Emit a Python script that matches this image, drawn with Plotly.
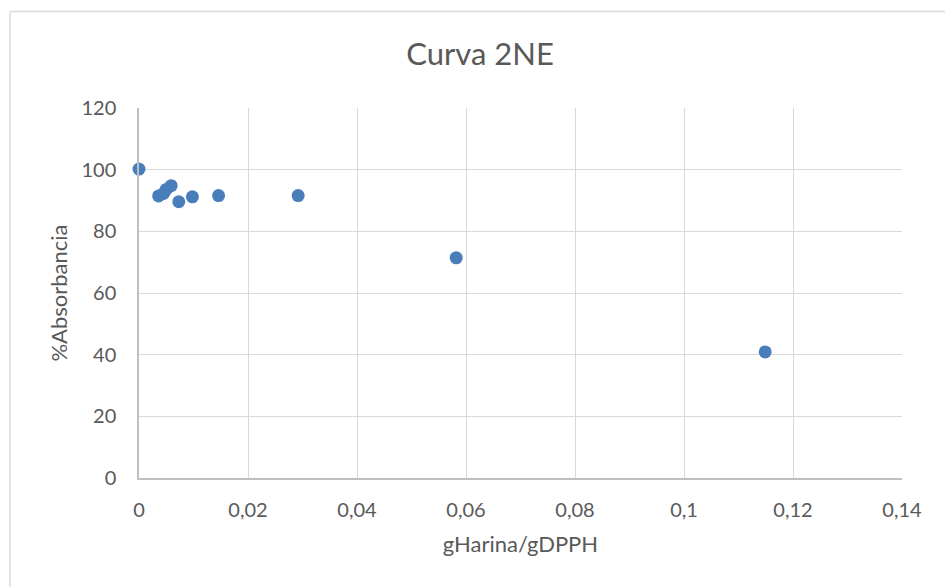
import plotly.graph_objects as go

x_vals = [0.0, 0.0036, 0.0045, 0.0050, 0.0059, 0.0073, 0.0098, 0.0146, 0.0292, 0.0582, 0.1149]
y_vals = [100.2, 91.5, 92.3, 93.6, 94.8, 89.6, 91.2, 91.6, 91.6, 71.4, 40.9]

x_ticks = [0, 0.02, 0.04, 0.06, 0.08, 0.1, 0.12, 0.14]
x_tick_labels = ["0", "0,02", "0,04", "0,06", "0,08", "0,1", "0,12", "0,14"]
y_ticks = [0, 20, 40, 60, 80, 100, 120]

FONT = "Lato, 'Open Sans', sans-serif"
TXT = "#595959"

fig = go.Figure()
fig.add_trace(go.Scatter(
    x=x_vals, y=y_vals, mode="markers",
    marker=dict(size=13, color="#4A7EBB"),
    showlegend=False, cliponaxis=False,
))

fig.update_layout(
    width=945, height=587,
    margin=dict(l=139, r=43, t=108, b=109),
    paper_bgcolor="white", plot_bgcolor="white",
    title=dict(text="Curva 2NE", x=480 / 945, xanchor="center", y=0.908, yanchor="middle",
               font=dict(family=FONT, size=31, color=TXT)),
    font=dict(family=FONT, size=20, color=TXT),
    xaxis=dict(
        range=[0, 0.14], tickvals=x_ticks, ticktext=x_tick_labels,
        showgrid=True, gridcolor="#D9D9D9", gridwidth=1,
        zeroline=False, showline=True, linecolor="#BFBFBF", linewidth=1.5,
        ticks="", ticklen=0, ticklabelstandoff=13,
        tickfont=dict(family=FONT, size=20, color=TXT),
        title=dict(text="gHarina/gDPPH", font=dict(family=FONT, size=22, color=TXT), standoff=17),
    ),
    yaxis=dict(
        range=[0, 120], tickvals=y_ticks,
        showgrid=True, gridcolor="#D9D9D9", gridwidth=1,
        zeroline=False, showline=True, linecolor="#BFBFBF", linewidth=1.5,
        ticks="", ticklen=0, ticklabelstandoff=17,
        tickfont=dict(family=FONT, size=20, color=TXT),
        title=dict(text="%Absorbancia", font=dict(family=FONT, size=22, color=TXT), standoff=8),
    ),
    shapes=[
        dict(type="line", xref="paper", yref="paper",
             x0=(10 - 139) / 763, x1=(950 - 139) / 763,
             y0=(478 - 11.5) / 370, y1=(478 - 11.5) / 370,
             line=dict(color="#D9D9D9", width=1.5)),
        dict(type="line", xref="paper", yref="paper",
             x0=(10 - 139) / 763, x1=(10 - 139) / 763,
             y0=(478 - 11.5) / 370, y1=(478 - 600) / 370,
             line=dict(color="#D9D9D9", width=1.5)),
    ],
)

fig.write_html("out.html")
